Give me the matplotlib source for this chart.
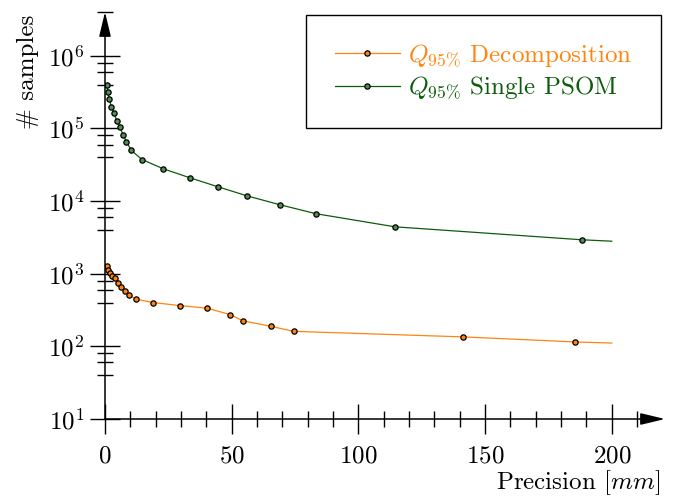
import numpy as np
import matplotlib
matplotlib.use("Agg")
import matplotlib.pyplot as plt
from matplotlib.ticker import FixedLocator, LogFormatterMathtext, NullFormatter
from matplotlib.patches import Rectangle

plt.rcParams['font.family'] = 'serif'
plt.rcParams['font.serif'] = ['cmr10', 'DejaVu Serif']
plt.rcParams['mathtext.fontset'] = 'cm'
plt.rcParams['axes.formatter.use_mathtext'] = True

# Q95% sample counts vs. precision
prec_dec = [0.7, 1.3, 2.0, 2.8, 4.1, 5.0, 6.2, 7.8, 9.3, 12.2, 19.1, 29.6, 40.4,
            49.3, 54.6, 65.4, 74.4, 141.2, 185.4, 200]
samples_dec = [1280, 1127, 1035, 942, 867, 754, 658, 579, 515, 446, 400, 364, 335,
               274, 224, 189, 161, 135, 115, 111]

prec_psom = [0.7, 1.1, 1.7, 2.5, 3.6, 4.6, 5.9, 7.1, 8.4, 10.4, 14.6, 23.0, 33.5,
             44.6, 56.0, 69.0, 83.2, 114.4, 188.2, 200]
samples_psom = [3.98e5, 3.16e5, 2.53e5, 2.0e5, 1.62e5, 1.28e5, 1.03e5, 8.2e4, 6.6e4,
                4.97e4, 3.73e4, 2.78e4, 2.09e4, 1.57e4, 1.18e4, 8.9e3, 6.7e3, 4.42e3,
                2.93e3, 2.8e3]

orange = '#ff8510'
green = '#0d5c0d'
FS = 18

fig = plt.figure(figsize=(6.74, 4.97), dpi=100)
ax = fig.add_axes([105 / 674, 1 - 419 / 497, 560 / 674, 407 / 497])

mk = dict(marker='o', markersize=3.8, markeredgecolor='black', markeredgewidth=0.9)
ax.plot(prec_dec, samples_dec, color=orange, lw=0.9, markerfacecolor=orange,
        markevery=list(range(len(prec_dec) - 1)), label=r'$Q_{95\%}$ Decomposition', **mk)
ax.plot(prec_psom, samples_psom, color=green, lw=0.9, markerfacecolor='#4f8f4f',
        markevery=list(range(len(prec_psom) - 1)), label=r'$Q_{95\%}$ Single PSOM', **mk)

ax.set_yscale('log')
ax.set_xlim(0, 221)
ax.set_ylim(10, 4e6)

# axis lines through the origin with arrow heads
for s in ax.spines.values():
    s.set_visible(False)
arrow = dict(arrowstyle='-|>,head_length=1.5,head_width=0.36', color='black',
             lw=1.1, shrinkA=0, shrinkB=0)
ax.annotate('', xy=(1, 0), xytext=(0, 0), xycoords='axes fraction', arrowprops=arrow)
ax.annotate('', xy=(0, 1), xytext=(0, 0), xycoords='axes fraction', arrowprops=arrow)

ax.set_xticks([0, 50, 100, 150, 200])
ax.xaxis.set_minor_locator(FixedLocator([v for v in range(10, 211, 10) if v % 50]))
ax.yaxis.set_major_locator(FixedLocator([10.0 ** k for k in range(1, 7)]))
ax.yaxis.set_major_formatter(LogFormatterMathtext())
ax.yaxis.set_minor_locator(FixedLocator([m * 10.0 ** k for k in range(1, 7) for m in (4, 6, 8)]))
ax.yaxis.set_minor_formatter(NullFormatter())
ax.tick_params(which='major', direction='inout', length=21.5, width=1.0, labelsize=FS)
ax.tick_params(which='minor', direction='inout', length=11.5, width=1.0)
ax.tick_params(axis='x', which='major', pad=8)
ax.tick_params(axis='y', which='major', pad=4)

fig.text(28 / 674, 1 - 72 / 497, '# samples', rotation=90, ha='center', va='center',
         fontsize=FS)
fig.text(660 / 674, 1 - 483 / 497, 'Precision [$mm$]', ha='right', va='center',
         fontsize=FS)

# legend with its own frame
fig.patches.append(Rectangle((306 / 674, 1 - 128 / 497), 355 / 674, 113 / 497,
                             transform=fig.transFigure, fill=False, ec='black', lw=1.0))
ax.legend(loc='center', bbox_to_anchor=(483.5 / 674, 1 - 72 / 497),
          bbox_transform=fig.transFigure, frameon=False, fontsize=FS,
          handlelength=2.6, handletextpad=0.35, labelspacing=0.25,
          labelcolor='linecolor', borderpad=0)

fig.savefig('out.png', dpi=100)
